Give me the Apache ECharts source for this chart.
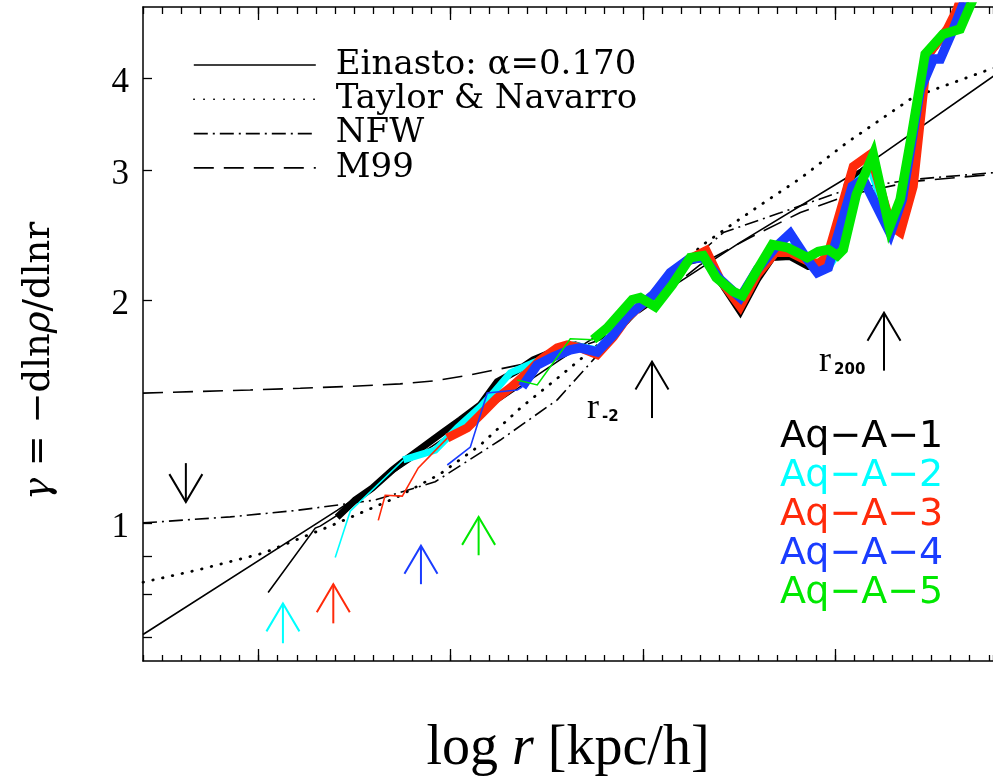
<!DOCTYPE html>
<html><head><meta charset="utf-8">
<script src="https://cdn.jsdelivr.net/npm/echarts@6/dist/echarts.min.js"></script>
<style>html,body{margin:0;padding:0;background:#fff}#c{width:993px;height:777px}</style>
</head><body><div id="c"></div>
<script>
// ---------- axis ticks ----------
const xMajorTicks = [-1, 0, 1, 2];
const yTickLabels = [1, 2, 3, 4];
const yMinorTicks = [0.7, 0.8, 0.9];

// ---------- model curves (log r, gamma) ----------
const einastoLogR = [-1.6, -0.590, 0.571, 1.507, 2.132, 2.824, 2.902];
const einastoGamma = [0.706, 1.040, 1.664, 2.399, 3.012, 4.030, 4.145];

const tnLogR = [-1.6, -1.319, -0.975, -0.626, -0.277, -0.054, 0.155, 0.363, 0.571, 0.831, 1.039, 1.299, 1.471, 1.648, 1.820, 2.064, 2.407, 2.808, 2.902];
const tnGamma = [0.831, 0.863, 0.910, 0.990, 1.084, 1.165, 1.275, 1.431, 1.582, 1.799, 2.006, 2.368, 2.545, 2.735, 2.929, 3.278, 3.774, 4.119, 4.184];

const nfwLogR = [-1.6, -1.146, -0.798, -0.392, -0.080, 0.259, 0.555, 0.779, 1.039, 1.247, 1.419, 1.715, 2.064, 2.407, 2.824, 2.902];
const nfwGamma = [1.000, 1.019, 1.040, 1.074, 1.137, 1.295, 1.468, 1.705, 2.006, 2.260, 2.474, 2.631, 2.830, 2.920, 2.982, 2.988];

const m99LogR = [-1.6, -1.302, -1.042, -0.782, -0.522, -0.262, -0.090, 0.087, 0.259, 0.415, 0.597, 0.779, 1.039, 1.299, 1.559, 1.820, 2.080, 2.407, 2.824, 2.902];
const m99Gamma = [1.499, 1.507, 1.514, 1.522, 1.531, 1.543, 1.557, 1.584, 1.617, 1.648, 1.705, 1.771, 1.975, 2.238, 2.436, 2.634, 2.786, 2.902, 2.966, 2.976];

// ---------- simulations: thin (unconverged) and thick (converged) parts ----------
const a1ThinLogR = [-0.949, -0.704, -0.678, -0.590];
const a1ThinGamma = [0.805, 0.984, 0.990, 1.024];
const a1LogR = [-0.590, -0.496, -0.407, -0.303, -0.236, -0.116, -0.038, 0.051, 0.155, 0.243, 0.337, 0.430, 0.555, 0.649, 0.763, 0.919, 1.055, 1.143, 1.237, 1.315, 1.414, 1.507, 1.596, 1.674, 1.767, 1.861, 1.950, 2.002, 2.064, 2.184, 2.288, 2.355, 2.418, 2.470, 2.574, 2.668];
const a1Gamma = [1.018, 1.074, 1.115, 1.179, 1.217, 1.283, 1.328, 1.379, 1.445, 1.553, 1.602, 1.663, 1.716, 1.743, 1.705, 1.897, 2.032, 2.170, 2.260, 2.288, 2.103, 1.933, 2.136, 2.288, 2.295, 2.225, 2.225, 2.383, 2.875, 3.060, 2.482, 2.786, 3.414, 4.250, 4.595, 5.208];

const a2ThinLogR = [-0.600, -0.522, -0.246];
const a2ThinGamma = [0.898, 1.037, 1.217];
const a2LogR = [-0.246, -0.080, 0.035, 0.155, 0.222, 0.311, 0.430, 0.534, 0.638, 0.763, 0.919, 1.055, 1.143, 1.237, 1.315, 1.414, 1.507, 1.596, 1.689, 1.767, 1.861, 1.924, 1.976, 2.028, 2.106, 2.184, 2.298, 2.355, 2.418, 2.470, 2.574, 2.668];
const a2Gamma = [1.217, 1.255, 1.345, 1.436, 1.500, 1.597, 1.648, 1.690, 1.743, 1.716, 1.897, 2.038, 2.170, 2.274, 2.288, 2.123, 1.988, 2.190, 2.368, 2.368, 2.260, 2.218, 2.238, 2.346, 2.891, 3.011, 2.497, 2.786, 3.414, 4.250, 4.595, 5.208];

const a3ThinLogR = [-0.376, -0.340, -0.251, -0.168, -0.017];
const a3ThinGamma = [1.008, 1.090, 1.087, 1.187, 1.303];
const a3LogR = [-0.017, 0.087, 0.165, 0.243, 0.311, 0.399, 0.467, 0.555, 0.607, 0.675, 0.763, 0.847, 0.919, 1.055, 1.143, 1.237, 1.330, 1.403, 1.507, 1.596, 1.689, 1.767, 1.861, 1.913, 1.960, 2.095, 2.184, 2.293, 2.340, 2.407, 2.480, 2.584, 2.636, 2.662];
const a3Gamma = [1.303, 1.345, 1.409, 1.477, 1.524, 1.597, 1.663, 1.727, 1.743, 1.727, 1.690, 1.787, 1.897, 2.038, 2.170, 2.274, 2.339, 2.136, 1.963, 2.170, 2.324, 2.324, 2.260, 2.246, 2.295, 3.040, 3.158, 2.521, 2.474, 2.857, 4.290, 4.668, 4.969, 5.208];

const a4ThinLogR = [-0.017, 0.103, 0.191, 0.347, 0.373];
const a4ThinGamma = [1.198, 1.267, 1.500, 1.514, 1.529];
const a4LogR = [0.373, 0.451, 0.534, 0.623, 0.675, 0.763, 0.847, 0.919, 1.055, 1.143, 1.237, 1.315, 1.403, 1.507, 1.596, 1.689, 1.767, 1.856, 1.908, 1.965, 1.996, 2.090, 2.147, 2.288, 2.350, 2.444, 2.511, 2.548, 2.616, 2.688];
const a4Gamma = [1.529, 1.637, 1.679, 1.716, 1.727, 1.705, 1.798, 1.903, 2.038, 2.183, 2.274, 2.288, 2.136, 2.019, 2.204, 2.361, 2.466, 2.274, 2.183, 2.218, 2.361, 2.857, 2.920, 2.466, 2.743, 3.868, 4.250, 4.250, 4.668, 5.208];

const a5ThinLogR = [0.347, 0.451, 0.623, 0.742];
const a5ThinGamma = [1.562, 1.538, 1.776, 1.771];
const a5LogR = [0.742, 0.815, 0.945, 0.987, 1.065, 1.154, 1.247, 1.315, 1.382, 1.471, 1.518, 1.596, 1.674, 1.752, 1.856, 1.913, 1.965, 2.012, 2.043, 2.111, 2.199, 2.283, 2.339, 2.401, 2.469, 2.562, 2.651, 2.730];
const a5Gamma = [1.771, 1.838, 2.006, 2.019, 1.963, 2.103, 2.288, 2.302, 2.149, 2.057, 2.032, 2.204, 2.383, 2.361, 2.288, 2.331, 2.346, 2.302, 2.346, 2.786, 3.158, 2.513, 2.743, 3.382, 4.317, 4.595, 4.668, 5.208];

// ---------- arrows: convergence radii, r_-2, r_200 ----------
const arrowLogR = [-1.377, -0.872, -0.610, -0.154, 0.146, 1.048, 2.255];
const arrowTip = [1.067, 0.778, 0.826, 0.931, 1.019, 1.654, 1.926];
const arrowTail = [1.205, 0.687, 0.731, 0.826, 0.904, 1.387, 1.608];
const arrowMain = ['', '', '', '', '', 'r', 'r'];
const arrowSub = ['', '', '', '', '', '-2', '200'];

// ---------- names ----------
const modelNames = ['Einasto: α=0.170', 'Taylor & Navarro', 'NFW', 'M99'];
const simNames = ['Aq\u2212A\u22121', 'Aq\u2212A\u22122', 'Aq\u2212A\u22123', 'Aq\u2212A\u22124', 'Aq\u2212A\u22125'];

// ---------- styles ----------
const simColors = ['#000000', '#00ffff', '#ff2a0a', '#1a3cff', '#00e800'];
const simThick = [7, 7, 9, 9.5, 9.5];
const arrowColors = ['#000000', '#00ffff', '#ff2a0a', '#1a3cff', '#00e800', '#000000', '#000000'];

const zip = (a, b) => a.map((v, i) => [v, b[i]]);

function modelSeries(name, xs, ys, type, width, cap) {
  return {
    type: 'line', name, data: zip(xs, ys), xAxisIndex: 0, yAxisIndex: 0,
    symbol: 'none', silent: true, z: 2, emphasis: { disabled: true },
    lineStyle: { color: '#000', width, type, cap: cap || 'butt' }
  };
}
function simSeries(i, xs, ys, width) {
  return {
    type: 'line', name: simNames[i], data: zip(xs, ys), xAxisIndex: 0, yAxisIndex: 0,
    symbol: 'none', silent: true, z: 3, emphasis: { disabled: true },
    lineStyle: { color: simColors[i], width, join: 'miter', cap: 'butt' }
  };
}

const series = [
  modelSeries(modelNames[0], einastoLogR, einastoGamma, 'solid', 1.6),
  modelSeries(modelNames[1], tnLogR, tnGamma, [0.5, 9.5], 2.8, 'round'),
  modelSeries(modelNames[2], nfwLogR, nfwGamma, [14, 5, 2, 5], 1.6),
  modelSeries(modelNames[3], m99LogR, m99Gamma, [20, 10], 1.6)
];
const thin = [[a1ThinLogR, a1ThinGamma], [a2ThinLogR, a2ThinGamma], [a3ThinLogR, a3ThinGamma], [a4ThinLogR, a4ThinGamma], [a5ThinLogR, a5ThinGamma]];
const thick = [[a1LogR, a1Gamma], [a2LogR, a2Gamma], [a3LogR, a3Gamma], [a4LogR, a4Gamma], [a5LogR, a5Gamma]];
for (let i = 0; i < 5; i++) {
  series.push(simSeries(i, thin[i][0], thin[i][1], 1.6));
  series.push(simSeries(i, thick[i][0], thick[i][1], simThick[i]));
}
series.push({
  type: 'custom', name: 'arrows', xAxisIndex: 0, yAxisIndex: 0, silent: true, z: 5,
  encode: { x: 0, y: [1, 2] },
  data: arrowLogR.map((v, i) => [v, arrowTip[i], arrowTail[i]]),
  renderItem(params, api) {
    const i = params.dataIndex;
    const tip = api.coord([api.value(0), api.value(1)]);
    const tail = api.coord([api.value(0), api.value(2)]);
    const s = tail[1] > tip[1] ? 1 : -1;
    const wx = 16.5, wy = 28;
    const st = { stroke: arrowColors[i], lineWidth: 2, fill: null };
    const children = [
      { type: 'line', shape: { x1: tip[0], y1: tip[1], x2: tail[0], y2: tail[1] }, style: st },
      { type: 'polyline', shape: { points: [[tip[0] - wx, tip[1] + s * wy], [tip[0], tip[1]], [tip[0] + wx, tip[1] + s * wy]] }, style: st }
    ];
    if (arrowMain[i]) {
      children.push({ type: 'text', x: tip[0] - 65, y: tail[1] - 9,
        style: { text: arrowMain[i], fontFamily: 'Liberation Serif', fontSize: 36, fill: '#000', align: 'left', verticalAlign: 'middle' } });
      children.push({ type: 'text', x: tip[0] - 50, y: tail[1] - 1,
        style: { text: arrowSub[i], fontFamily: 'DejaVu Sans', fontWeight: 'bold', fontSize: 15, fill: '#000', align: 'left', verticalAlign: 'middle' } });
    }
    return { type: 'group', children };
  }
});

const ln = Math.log;
const X_MIN = -1.6, X_MAX = 2.822;
const gridRect = { left: 143, top: 7, width: 850, height: 654, outerBoundsMode: 'none', containLabel: false };
const axisLineStyle = { color: '#000', width: 1.5 };
const tickStyle = { color: '#000', width: 1.3 };
const xCommon = { type: 'value', min: X_MIN, max: X_MAX, splitLine: { show: false }, axisLabel: { show: false } };

const option = {
  animation: false,
  backgroundColor: '#fff',
  grid: [Object.assign({}, gridRect), Object.assign({}, gridRect)],
  xAxis: [
    Object.assign({}, xCommon, { gridIndex: 0, position: 'bottom', interval: 0.1,
      axisLine: { show: true, onZero: false, lineStyle: axisLineStyle }, axisTick: { show: true, inside: true, length: 6, lineStyle: tickStyle },
      name: '{a|log }{b|r}{a| [kpc/h]}', nameLocation: 'middle', nameGap: 63,
      nameTextStyle: { rich: {
        a: { fontFamily: 'Liberation Serif', fontSize: 56, color: '#000', lineHeight: 50 },
        b: { fontFamily: 'Liberation Serif', fontSize: 56, fontStyle: 'italic', color: '#000', lineHeight: 50 } } } }),
    Object.assign({}, xCommon, { gridIndex: 0, position: 'top', interval: 0.1,
      axisLine: { show: true, onZero: false, lineStyle: axisLineStyle }, axisTick: { show: true, inside: true, length: 7, lineStyle: tickStyle } }),
    Object.assign({}, xCommon, { gridIndex: 1, position: 'bottom',
      axisLine: { show: false, onZero: false }, axisTick: { show: true, inside: true, length: 12, customValues: xMajorTicks, lineStyle: tickStyle } }),
    Object.assign({}, xCommon, { gridIndex: 1, position: 'top',
      axisLine: { show: false, onZero: false }, axisTick: { show: true, inside: true, length: 13, customValues: xMajorTicks, lineStyle: tickStyle } })
  ],
  yAxis: [
    { type: 'log', logBase: 10, min: 0.65, max: 5, gridIndex: 0, position: 'left',
      axisLine: { show: true, onZero: false, lineStyle: axisLineStyle }, axisTick: { show: false }, axisLabel: { show: false }, splitLine: { show: false } },
    { type: 'log', logBase: 10, min: 0.65, max: 5, gridIndex: 0, position: 'right',
      axisLine: { show: false, onZero: false }, axisTick: { show: false }, axisLabel: { show: false }, splitLine: { show: false } },
    { type: 'value', min: ln(0.65), max: ln(5), gridIndex: 1, position: 'left',
      axisLine: { show: false, onZero: false }, splitLine: { show: false },
      axisTick: { show: true, inside: true, length: 9, lineStyle: tickStyle, customValues: yMinorTicks.concat(yTickLabels).map(ln) },
      axisLabel: { show: true, margin: 14, customValues: yTickLabels.map(ln),
        formatter: v => '{a|' + Math.round(Math.exp(v)) + '}',
        rich: { a: { fontFamily: 'Liberation Serif', fontSize: 35, color: '#000', padding: [9, 0, 0, 0] } } },
      name: '{b|γ} = −dln{b|ρ}/dlnr', nameLocation: 'middle', nameGap: 83,
      nameTextStyle: { fontFamily: 'DejaVu Serif', fontSize: 37, color: '#000', lineHeight: 42, padding: [0, 54, 0, 0],
        rich: { b: { fontFamily: 'DejaVu Serif', fontSize: 37, fontStyle: 'italic', color: '#000', lineHeight: 42 } } } },
    { type: 'value', min: ln(0.65), max: ln(5), gridIndex: 1, position: 'right',
      axisLine: { show: false, onZero: false }, splitLine: { show: false }, axisLabel: { show: false }, axisTick: { show: false } }
  ],
  legend: [
    { orient: 'vertical', left: 193, top: 48, padding: 0, itemWidth: 122, itemHeight: 14, itemGap: 0.3, selectedMode: false,
      data: modelNames, lineStyle: { width: 1.6 },
      itemStyle: { color: 'rgba(0,0,0,0)', borderColor: 'rgba(0,0,0,0)', borderWidth: 0 },
      textStyle: { fontFamily: 'DejaVu Serif', fontSize: 34, color: '#000', lineHeight: 32, padding: [0, 0, 0, 15] } },
    { orient: 'vertical', left: 774, top: 418, padding: 0, itemWidth: 1, itemHeight: 1, itemGap: 0, icon: 'none', selectedMode: false,
      data: simNames.map((n, i) => ({ name: n, icon: 'none', textStyle: { color: simColors[i] } })),
      textStyle: { fontFamily: 'DejaVu Sans', fontSize: 38, lineHeight: 39 } }
  ],
  series
};

const chart = echarts.init(document.getElementById('c'), null, { renderer: 'canvas', width: 993, height: 777 });
chart.setOption(option);
</script>
</body></html>
